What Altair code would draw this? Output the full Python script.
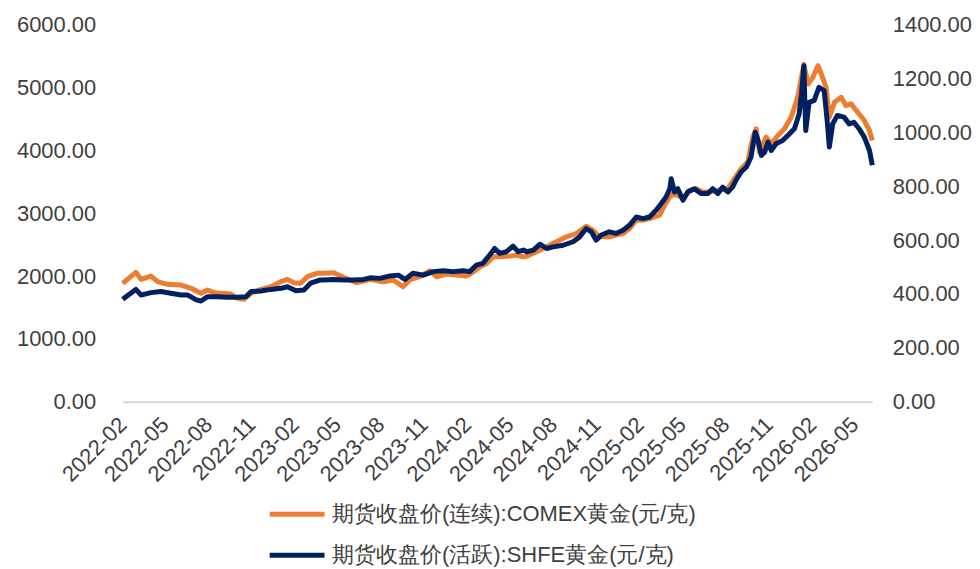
import altair as alt
import pandas as pd

# COMEX gold (left axis)
comex_dates = [
    "2022-02-01", "2022-03-01", "2022-03-12", "2022-04-02", "2022-04-16", "2022-05-07",
    "2022-06-05", "2022-06-26", "2022-07-17", "2022-07-31", "2022-08-14", "2022-08-28",
    "2022-09-18", "2022-10-02", "2022-10-16", "2022-10-31", "2022-11-21", "2022-12-12",
    "2023-01-02", "2023-01-16", "2023-01-30", "2023-02-13", "2023-02-27", "2023-03-20",
    "2023-04-03", "2023-04-24", "2023-05-15", "2023-06-12", "2023-07-10", "2023-08-07",
    "2023-08-28", "2023-09-18", "2023-10-02", "2023-10-23", "2023-11-14", "2023-11-28",
    "2023-12-19", "2024-01-09", "2024-01-30", "2024-02-14", "2024-02-28", "2024-03-13",
    "2024-03-27", "2024-04-10", "2024-05-01", "2024-05-15", "2024-05-30", "2024-06-06",
    "2024-06-27", "2024-07-18", "2024-08-08", "2024-08-29", "2024-09-19", "2024-10-10",
    "2024-10-24", "2024-11-07", "2024-11-28", "2024-12-12", "2024-12-27", "2025-01-10",
    "2025-01-24", "2025-02-07", "2025-02-21", "2025-03-14", "2025-03-25", "2025-04-05",
    "2025-04-12", "2025-04-22", "2025-05-03", "2025-05-17", "2025-05-31", "2025-06-14",
    "2025-06-28", "2025-07-16", "2025-08-06", "2025-08-20", "2025-09-03", "2025-09-17",
    "2025-09-28", "2025-10-05", "2025-10-12", "2025-10-26", "2025-11-06", "2025-11-20",
    "2025-12-04", "2025-12-18", "2026-01-01", "2026-01-14", "2026-01-23", "2026-02-02",
    "2026-02-13", "2026-02-20", "2026-03-02", "2026-03-09", "2026-03-20", "2026-04-03",
    "2026-04-13", "2026-04-24", "2026-05-08", "2026-05-22", "2026-06-02", "2026-06-08",
]
comex_values = [
    1884, 2059, 1947, 2000, 1910, 1868,
    1857, 1805, 1725, 1778, 1735, 1725,
    1714, 1646, 1630, 1725, 1789, 1830,
    1910, 1947, 1894, 1884, 1989, 2043,
    2043, 2053, 1979, 1894, 1947, 1910,
    1937, 1831, 1937, 1989, 2084, 1989,
    2032, 2016, 2000, 2068, 2148, 2201,
    2306, 2306, 2317, 2333, 2306, 2317,
    2386, 2465, 2545, 2624, 2677, 2794,
    2730, 2624, 2624, 2651, 2677, 2757,
    2889, 2889, 2916, 2968, 3127, 3259,
    3312, 3286, 3233, 3365, 3392, 3339,
    3339, 3365, 3392, 3550, 3709, 3815,
    4211, 4344, 3973, 4211, 4106, 4238,
    4344, 4529, 4846, 5370, 5058, 5164,
    5349, 5217, 5005, 4529, 4767, 4846,
    4714, 4741, 4608, 4476, 4317, 4159,
]

# SHFE gold (right axis)
shfe_dates = [
    "2022-02-01", "2022-03-01", "2022-03-12", "2022-04-02", "2022-04-23", "2022-05-14",
    "2022-06-05", "2022-06-19", "2022-07-07", "2022-07-17", "2022-07-31", "2022-08-21",
    "2022-09-11", "2022-10-02", "2022-10-20", "2022-10-31", "2022-11-21", "2022-12-12",
    "2023-01-02", "2023-01-16", "2023-02-03", "2023-02-20", "2023-03-06", "2023-03-27",
    "2023-04-03", "2023-04-24", "2023-05-15", "2023-06-05", "2023-06-27", "2023-07-10",
    "2023-07-31", "2023-08-21", "2023-09-08", "2023-09-22", "2023-10-09", "2023-10-31",
    "2023-11-21", "2023-12-12", "2024-01-02", "2024-01-23", "2024-02-06", "2024-02-20",
    "2024-03-05", "2024-03-19", "2024-03-30", "2024-04-10", "2024-04-24", "2024-05-08",
    "2024-05-19", "2024-05-30", "2024-06-06", "2024-06-20", "2024-07-04", "2024-07-18",
    "2024-08-01", "2024-08-22", "2024-09-12", "2024-09-26", "2024-10-10", "2024-10-21",
    "2024-10-31", "2024-11-11", "2024-11-28", "2024-12-12", "2024-12-27", "2025-01-10",
    "2025-01-24", "2025-02-07", "2025-02-21", "2025-03-07", "2025-03-18", "2025-03-28",
    "2025-04-05", "2025-04-08", "2025-04-15", "2025-04-22", "2025-05-03", "2025-05-13",
    "2025-05-27", "2025-06-10", "2025-06-24", "2025-07-05", "2025-07-16", "2025-07-26",
    "2025-08-06", "2025-08-16", "2025-08-23", "2025-09-03", "2025-09-14", "2025-09-24",
    "2025-10-03", "2025-10-09", "2025-10-16", "2025-10-23", "2025-10-30", "2025-11-06",
    "2025-11-16", "2025-11-30", "2025-12-11", "2025-12-25", "2026-01-04", "2026-01-09",
    "2026-01-14", "2026-01-16", "2026-01-18", "2026-01-25", "2026-02-05", "2026-02-15",
    "2026-02-26", "2026-03-05", "2026-03-09", "2026-03-16", "2026-03-26", "2026-04-09",
    "2026-04-20", "2026-04-30", "2026-05-11", "2026-05-22", "2026-06-02", "2026-06-08",
]
shfe_values = [
    380, 417, 396, 405, 409, 403,
    396, 396, 378, 374, 390, 390,
    388, 388, 390, 409, 411, 417,
    421, 427, 412, 415, 440, 452,
    452, 454, 452, 452, 454, 460,
    458, 467, 470, 454, 477, 470,
    483, 486, 483, 486, 483, 507,
    514, 544, 569, 551, 557, 578,
    557, 563, 557, 563, 585, 569,
    575, 581, 594, 612, 643, 631,
    600, 619, 631, 625, 637, 656,
    686, 680, 686, 711, 736, 760,
    791, 828, 779, 791, 748, 779,
    791, 773, 773, 791, 773, 797,
    779, 797, 822, 853, 871, 908,
    1001, 970, 915, 927, 964, 933,
    958, 970, 989, 1014, 1069, 1143,
    1248, 1119, 1007, 1112, 1119, 1168,
    1156, 1032, 946, 1032, 1063, 1057,
    1032, 1038, 1014, 983, 933, 878,
]

series_names = ["期货收盘价(连续):COMEX黄金(元/克)", "期货收盘价(活跃):SHFE黄金(元/克)"]
series_colors = ["#ED7D31", "#002060"]
left_ticks = [0, 1000, 2000, 3000, 4000, 5000, 6000]
right_ticks = [0, 200, 400, 600, 800, 1000, 1200, 1400]
tick_months = [(y, m) for y in range(2022, 2027) for m in (2, 5, 8, 11)
               if (y, m) >= (2022, 2) and (y, m) <= (2026, 5)]

df_c = pd.DataFrame({"date": comex_dates, "value": comex_values, "series": series_names[0]})
df_s = pd.DataFrame({"date": shfe_dates, "value": shfe_values, "series": series_names[1]})

FONT = "Liberation Sans"
TXT = "#404040"

x_enc = alt.X(
    "date:T",
    scale=alt.Scale(type="utc",
                    domain=[alt.DateTime(year=2022, month=2, date=1, utc=True),
                            alt.DateTime(year=2026, month=6, date=8, utc=True)]),
    axis=alt.Axis(
        title=None, format="%Y-%m",
        values=[alt.DateTime(year=y, month=m, date=1, utc=True) for y, m in tick_months],
        labelAngle=-45, labelAlign="right", labelBaseline="middle",
        labelPadding=19, labelFontSize=22, labelFont=FONT, labelColor=TXT,
        ticks=False, grid=False, domainColor="#D9D9D9", domainWidth=2,
        labelOverlap=False, labelFlush=False,
    ),
)

color_enc = alt.Color(
    "series:N",
    scale=alt.Scale(domain=series_names, range=series_colors),
    legend=alt.Legend(
        title=None, orient="none", legendX=145, legendY=461, direction="vertical",
        symbolType="stroke", symbolSize=3025, symbolStrokeWidth=5,
        labelFontSize=22, labelFont=FONT, labelColor=TXT, labelOffset=5,
        rowPadding=0, padding=0, labelLimit=600,
    ),
)

left = alt.Chart(df_c).mark_line(strokeWidth=5, strokeJoin="round").encode(
    x=x_enc,
    y=alt.Y("value:Q",
            scale=alt.Scale(domain=[0, 6000], nice=False, zero=True),
            axis=alt.Axis(title=None, orient="left", values=left_ticks, format=".2f",
                          labelFontSize=22, labelFont=FONT, labelColor=TXT,
                          labelPadding=27, ticks=False, domain=False, grid=False)),
    color=color_enc,
)

right = alt.Chart(df_s).mark_line(strokeWidth=5, strokeJoin="round").encode(
    x=x_enc,
    y=alt.Y("value:Q",
            scale=alt.Scale(domain=[0, 1400], nice=False, zero=True),
            axis=alt.Axis(title=None, orient="right", values=right_ticks, format=".2f",
                          labelFontSize=22, labelFont=FONT, labelColor=TXT,
                          labelPadding=20, ticks=False, domain=False, grid=False)),
    color=color_enc,
)

chart = alt.layer(left, right).resolve_scale(y="independent").properties(
    width=752, height=378,
    autosize=alt.AutoSizeParams(type="none"),
    padding={"left": 115, "top": 16, "right": 100, "bottom": 166},
).configure_view(stroke=None)

chart.save("out.html", embed_options={"renderer": "svg", "actions": False})
